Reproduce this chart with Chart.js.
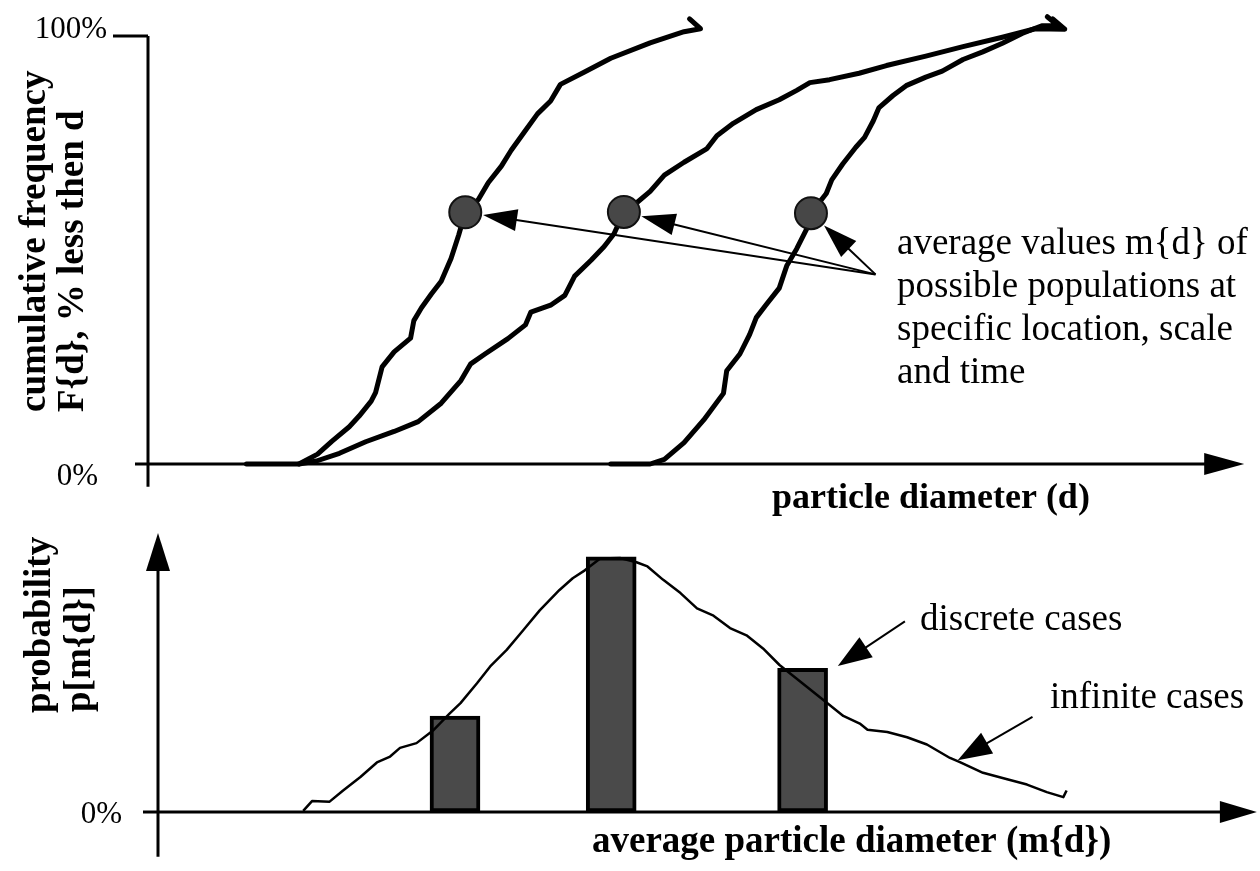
<!DOCTYPE html>
<html>
<head>
<meta charset="utf-8">
<script src="https://cdn.jsdelivr.net/npm/chart.js@4.4.1/dist/chart.umd.min.js"></script>
<style>
  html, body { margin: 0; padding: 0; background: #fff; }
  #page { position: relative; width: 1260px; height: 871px; overflow: hidden; }
  #page canvas { position: absolute; left: 0; display: block; }
  #topChart { top: 0; }
  #bottomChart { top: 520px; }
</style>
</head>
<body>
<div id="page">
  <canvas id="topChart" width="1260" height="520"></canvas>
  <canvas id="bottomChart" width="1260" height="351"></canvas>
</div>
<script>
// cumulative curves, [particle diameter, % less than d]
const fineCurve = [
  [9.0, 0], [13.8, 0], [15.5, 2.3], [16.8, 5.3], [18.4, 8.7], [19.3, 11.2], [20.4, 14.7], [20.8, 16.7],
  [21.4, 22.7], [22.5, 26.2], [24.0, 29.4], [24.3, 33.5], [25.0, 36.5], [25.9, 39.7], [26.8, 42.7],
  [27.7, 48.0], [28.4, 53.5], [29.0, 58.8], [30.2, 61.8], [31.1, 65.7], [32.3, 69.6], [33.2, 73.3],
  [34.5, 77.9], [35.6, 81.8], [36.8, 84.8], [37.7, 88.7], [39.9, 91.6], [42.3, 94.8], [45.9, 98.4],
  [49.0, 101.0], [50.5, 101.7], [49.5, 104.0]
];
const mediumCurve = [
  [13.8, 0], [15.4, 0.7], [17.5, 2.5], [19.9, 5.2], [22.5, 7.6], [24.7, 9.9], [26.8, 14.2], [28.6, 19.5],
  [29.5, 23.4], [30.8, 25.7], [32.9, 29.3], [34.5, 32.5], [35.0, 35.5], [36.8, 37.1], [38.1, 39.4],
  [39.0, 43.9], [40.5, 47.6], [41.7, 50.8], [42.6, 53.8], [43.5, 58.9], [44.7, 61.1], [45.9, 63.7],
  [47.2, 67.5], [49.0, 70.5], [51.1, 73.7], [52.0, 76.7], [53.5, 79.6], [55.6, 82.8], [57.7, 85.1],
  [59.3, 87.3], [60.5, 89.1], [62.3, 89.8], [65.0, 91.3], [67.5, 93.1], [71.1, 95.3], [74.5, 97.5],
  [78.1, 99.7], [81.1, 101.7], [83.8, 101.6], [82.7, 104.0]
];
const coarseCurve = [
  [42.3, 0], [45.9, 0], [47.2, 1.1], [49.0, 5.0], [50.8, 10.3], [52.6, 16.5], [52.9, 21.8], [54.1, 25.7],
  [55.0, 30.3], [55.6, 34.2], [56.5, 37.2], [57.7, 41.1], [58.4, 46.4], [59.3, 50.3], [60.2, 54.9],
  [60.6, 58.6], [62.0, 63.2], [62.5, 66.4], [63.5, 70.1], [64.7, 74.0], [65.5, 76.3], [66.3, 80.2],
  [66.8, 83.2], [68.1, 86.1], [69.3, 88.4], [71.1, 90.4], [72.6, 91.8], [74.5, 94.5], [76.3, 96.3],
  [78.1, 98.3], [79.9, 100.6], [81.7, 102.4], [83.2, 102.4], [82.2, 104.5]
];

// average values m{d} of the three populations
const averageD = [29.0, 43.5, 60.6];
const averageF = [58.8, 58.9, 58.6];

// discrete cases (bars) and infinite cases (line) of p[m{d}]
const discreteD = [27.0, 41.2, 58.6];
const discreteP = [34.3, 91.1, 51.3];
const infiniteCurve = [
  [13.2, 0.4], [14.0, 3.9], [15.6, 3.7], [16.8, 7.6], [18.4, 12.5], [19.9, 17.7], [21.1, 19.8],
  [22.0, 22.9], [23.5, 24.6], [25.0, 29.1], [26.5, 35.1], [27.5, 38.9], [29.0, 46.0], [30.2, 52.0],
  [31.7, 57.9], [33.2, 64.9], [34.7, 72.0], [36.5, 79.3], [37.7, 83.5], [38.8, 86.3], [40.2, 90.5],
  [42.0, 90.7], [43.5, 89.2], [44.5, 87.7], [45.9, 83.0], [47.5, 78.2], [49.0, 72.7], [50.5, 70.1],
  [52.0, 65.7], [53.5, 63.1], [55.0, 58.4], [56.5, 52.5], [60.8, 39.0], [62.3, 34.3], [63.8, 31.6],
  [64.5, 29.4], [66.3, 28.6], [68.1, 26.7], [69.9, 24.1], [72.0, 19.3], [72.9, 17.8], [75.0, 14.0],
  [77.2, 11.7], [79.0, 9.8], [80.8, 7.1], [82.3, 5.3], [82.6, 7.7]
];

const topTicks = [100, 0];
const topTickLabels = ['100%', '0%'];
const bottomTicks = [0];
const bottomTickLabels = ['0%'];

// annotation pointers, in data units
const averagePointerFrom = [66.5, 44.3];
const discretePointer = [[67.9, 68.1], [61.8, 52.1]];
const infinitePointer = [[79.5, 34.0], [72.7, 18.5]];

const serif = "'Liberation Serif', 'Times New Roman', Times, serif";

const toPoints = pairs => pairs.map(([x, y]) => ({ x, y }));

function strokeLine(ctx, x1, y1, x2, y2) {
  ctx.beginPath();
  ctx.moveTo(x1, y1);
  ctx.lineTo(x2, y2);
  ctx.stroke();
}

function drawArrow(ctx, x1, y1, x2, y2, headLength, headHalf) {
  const a = Math.atan2(y2 - y1, x2 - x1);
  const cos = Math.cos(a);
  const sin = Math.sin(a);
  const bx = x2 - headLength * cos;
  const by = y2 - headLength * sin;
  strokeLine(ctx, x1, y1, bx + 2 * cos, by + 2 * sin);
  ctx.beginPath();
  ctx.moveTo(x2, y2);
  ctx.lineTo(bx + headHalf * sin, by - headHalf * cos);
  ctx.lineTo(bx - headHalf * sin, by + headHalf * cos);
  ctx.closePath();
  ctx.fill();
}

function rotatedText(ctx, text, x, y) {
  ctx.save();
  ctx.translate(x, y);
  ctx.rotate(-Math.PI / 2);
  ctx.textAlign = 'left';
  ctx.fillText(text, 0, 0);
  ctx.restore();
}

const topDecor = {
  id: 'topDecor',
  beforeDatasetsDraw(chart) {
    const { ctx, scales: { x, y } } = chart;
    const x0 = x.getPixelForValue(0);
    const y0 = y.getPixelForValue(0);
    const y100 = y.getPixelForValue(100);
    ctx.save();
    ctx.strokeStyle = '#000';
    ctx.fillStyle = '#000';
    ctx.lineWidth = 3;
    strokeLine(ctx, x0, y100, x0, y.getPixelForValue(-5.3));
    strokeLine(ctx, x0 - 35, y100, x0, y100);
    drawArrow(ctx, x0 - 13, y0, x.getPixelForValue(100.2), y0, 40, 11);

    ctx.font = `31px ${serif}`;
    ctx.textAlign = 'right';
    ctx.textBaseline = 'alphabetic';
    const labelOffsets = { 100: [-41, 2], 0: [-50, 21] };
    topTicks.forEach((tick, i) => {
      const [dx, dy] = labelOffsets[tick];
      ctx.fillText(topTickLabels[i], x0 + dx, y.getPixelForValue(tick) + dy);
    });

    ctx.font = `bold 37px ${serif}`;
    rotatedText(ctx, 'cumulative frequency', 45, 412);
    rotatedText(ctx, 'F{d}, % less then d', 83, 412);
    ctx.font = `bold 36px ${serif}`;
    ctx.textAlign = 'left';
    ctx.fillText('particle diameter (d)', 772, 508);
    ctx.restore();
  },
  afterDatasetsDraw(chart) {
    const { ctx, scales: { x, y } } = chart;
    const fx = x.getPixelForValue(averagePointerFrom[0]);
    const fy = y.getPixelForValue(averagePointerFrom[1]);
    ctx.save();
    ctx.strokeStyle = '#000';
    ctx.fillStyle = '#000';
    ctx.lineWidth = 2;
    averageD.forEach((d, i) => {
      const cx = x.getPixelForValue(d);
      const cy = y.getPixelForValue(averageF[i]);
      const a = Math.atan2(cy - fy, cx - fx);
      drawArrow(ctx, fx, fy, cx - 18 * Math.cos(a), cy - 18 * Math.sin(a), 34, 11);
    });

    ctx.font = `37px ${serif}`;
    ctx.textAlign = 'left';
    ['average values m{d} of', 'possible populations at', 'specific location, scale', 'and time']
      .forEach((line, i) => ctx.fillText(line, 897, 254 + i * 43));
    ctx.restore();
  }
};

const bottomDecor = {
  id: 'bottomDecor',
  beforeDatasetsDraw(chart) {
    const { ctx, scales: { x, y } } = chart;
    const x0 = x.getPixelForValue(0);
    const y0 = y.getPixelForValue(0);
    ctx.save();
    ctx.strokeStyle = '#000';
    ctx.fillStyle = '#000';
    ctx.lineWidth = 3;
    drawArrow(ctx, x0, y.getPixelForValue(-16), x0, y.getPixelForValue(99.6), 38, 12);
    drawArrow(ctx, x0 - 15, y0, x.getPixelForValue(99.9), y0, 37, 11);

    ctx.font = `31px ${serif}`;
    ctx.textAlign = 'right';
    bottomTicks.forEach((tick, i) => {
      ctx.fillText(bottomTickLabels[i], x0 - 36, y.getPixelForValue(tick) + 11);
    });

    ctx.font = `bold 37px ${serif}`;
    rotatedText(ctx, 'probability', 50, 193);
    rotatedText(ctx, 'p[m{d}]', 90, 192);
    ctx.textAlign = 'left';
    ctx.fillText('average particle diameter (m{d})', 592, 332);
    ctx.restore();
  },
  afterDatasetsDraw(chart) {
    const { ctx, scales: { x, y } } = chart;
    ctx.save();
    ctx.strokeStyle = '#000';
    ctx.fillStyle = '#000';
    ctx.lineWidth = 2;
    for (const [from, to] of [discretePointer, infinitePointer]) {
      drawArrow(ctx,
        x.getPixelForValue(from[0]), y.getPixelForValue(from[1]),
        x.getPixelForValue(to[0]), y.getPixelForValue(to[1]), 34, 12);
    }
    ctx.font = `37px ${serif}`;
    ctx.textAlign = 'left';
    ctx.fillText('discrete cases', 920, 110);
    ctx.fillText('infinite cases', 1050, 188);
    ctx.restore();
  }
};

const hiddenScales = {
  x: { type: 'linear', min: 0, max: 100, offset: false, display: false },
  y: { type: 'linear', min: 0, max: 100, display: false }
};

const curveStyle = {
  borderColor: '#000',
  borderWidth: 5,
  pointRadius: 0,
  tension: 0,
  clip: false,
  borderJoinStyle: 'round',
  borderCapStyle: 'round'
};

new Chart(document.getElementById('topChart'), {
  type: 'line',
  data: {
    datasets: [
      {
        label: 'average values m{d}',
        data: averageD.map((d, i) => ({ x: d, y: averageF[i] })),
        showLine: false,
        pointRadius: 16,
        pointBackgroundColor: '#474747',
        pointBorderColor: '#111',
        pointBorderWidth: 2,
        clip: false
      },
      { label: 'population 1', data: toPoints(fineCurve), ...curveStyle },
      { label: 'population 2', data: toPoints(mediumCurve), ...curveStyle },
      { label: 'population 3', data: toPoints(coarseCurve), ...curveStyle }
    ]
  },
  options: {
    responsive: false,
    animation: false,
    events: [],
    layout: { padding: { left: 148, right: 12, top: 36, bottom: 56 } },
    scales: hiddenScales,
    plugins: { legend: { display: false }, tooltip: { enabled: false } }
  },
  plugins: [topDecor]
});

new Chart(document.getElementById('bottomChart'), {
  type: 'bar',
  data: {
    datasets: [
      {
        type: 'line',
        label: 'infinite cases',
        data: toPoints(infiniteCurve),
        borderColor: '#000',
        borderWidth: 2.5,
        pointRadius: 0,
        tension: 0,
        clip: false,
        borderJoinStyle: 'round'
      },
      {
        type: 'bar',
        label: 'discrete cases',
        data: discreteD.map((d, i) => ({ x: d, y: discreteP[i] })),
        backgroundColor: '#4a4a4a',
        borderColor: '#000',
        borderWidth: 4,
        borderSkipped: false,
        barThickness: 50
      }
    ]
  },
  options: {
    responsive: false,
    animation: false,
    events: [],
    layout: { padding: { left: 158, right: 2, top: 12, bottom: 59 } },
    scales: hiddenScales,
    plugins: { legend: { display: false }, tooltip: { enabled: false } }
  },
  plugins: [bottomDecor]
});
</script>
</body>
</html>
